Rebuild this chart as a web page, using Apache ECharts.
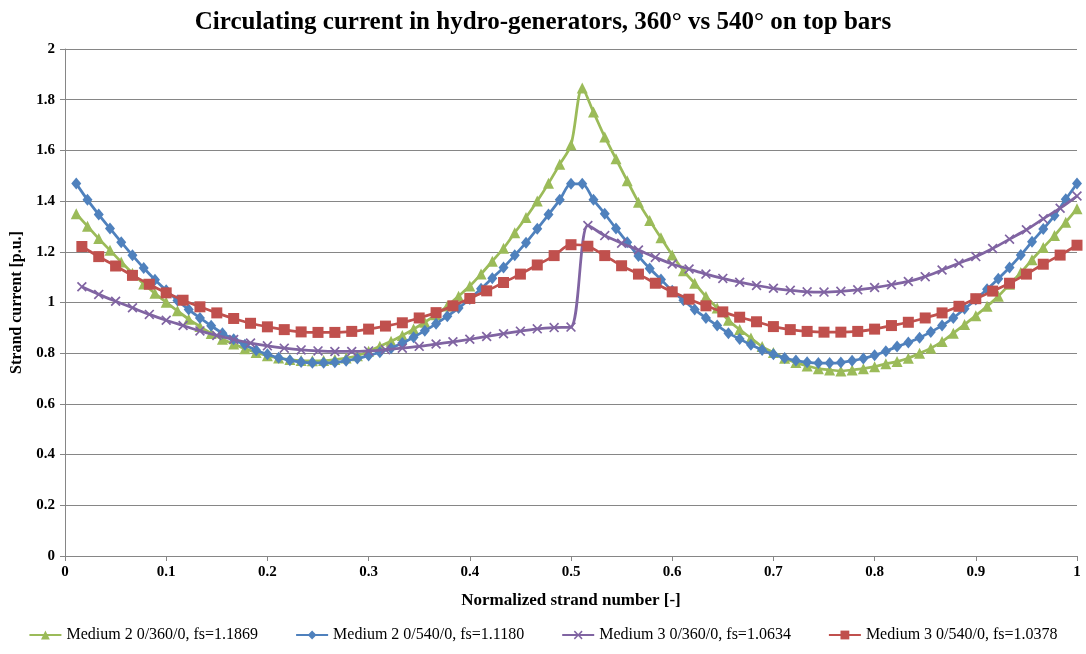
<!DOCTYPE html>
<html>
<head>
<meta charset="utf-8">
<title>Circulating current</title>
<script src="https://cdn.jsdelivr.net/npm/echarts@6/dist/echarts.min.js"></script>
<style>
  html, body { margin: 0; padding: 0; background: #fff; }
  #main { width: 1086px; height: 654px; }
</style>
</head>
<body>
<div id="main"></div>
<script>
// number of strands per series (points sit at i/N, i = 1..N)
var strands90 = 90;
var strands60 = 60;

// Medium 2 0/360/0 (green, triangles), 90 points
var medium2_360 = [
  1.350, 1.301, 1.252, 1.206, 1.160, 1.115, 1.073, 1.036, 1.001, 0.967,
  0.934, 0.905, 0.878, 0.855, 0.836, 0.818, 0.803, 0.790, 0.781, 0.775,
  0.771, 0.770, 0.771, 0.775, 0.781, 0.790, 0.808, 0.827, 0.847, 0.870,
  0.895, 0.922, 0.952, 0.986, 1.025, 1.065, 1.112, 1.163, 1.214, 1.275,
  1.335, 1.400, 1.470, 1.545, 1.622, 1.846, 1.751, 1.653, 1.567, 1.480,
  1.395, 1.323, 1.255, 1.187, 1.125, 1.076, 1.024, 0.978, 0.930, 0.893,
  0.860, 0.826, 0.803, 0.780, 0.763, 0.750, 0.739, 0.734, 0.730, 0.734,
  0.739, 0.747, 0.758, 0.767, 0.780, 0.800, 0.820, 0.846, 0.879, 0.913,
  0.948, 0.985, 1.025, 1.072, 1.118, 1.169, 1.217, 1.264, 1.317, 1.370
];

// Medium 2 0/540/0 (blue, diamonds), 90 points
var medium2_540 = [
  1.469, 1.405, 1.347, 1.292, 1.238, 1.186, 1.136, 1.090, 1.048, 1.008,
  0.972, 0.939, 0.908, 0.879, 0.855, 0.833, 0.812, 0.796, 0.782, 0.772,
  0.765, 0.762, 0.762, 0.764, 0.770, 0.779, 0.791, 0.804, 0.820, 0.840,
  0.863, 0.889, 0.916, 0.946, 0.978, 1.014, 1.054, 1.096, 1.138, 1.186,
  1.236, 1.291, 1.347, 1.405, 1.468, 1.468, 1.405, 1.350, 1.292, 1.238,
  1.183, 1.134, 1.091, 1.046, 1.009, 0.972, 0.939, 0.909, 0.879, 0.856,
  0.833, 0.813, 0.796, 0.781, 0.771, 0.764, 0.761, 0.761, 0.763, 0.770,
  0.779, 0.792, 0.808, 0.826, 0.842, 0.861, 0.884, 0.909, 0.939, 0.975,
  1.012, 1.052, 1.094, 1.138, 1.187, 1.240, 1.290, 1.343, 1.407, 1.469
];

// Medium 3 0/360/0 (purple, crosses), 60 points
var medium3_360 = [
  1.062, 1.032, 1.005, 0.979, 0.953, 0.930, 0.909, 0.888, 0.870, 0.854,
  0.840, 0.829, 0.820, 0.813, 0.809, 0.807, 0.807, 0.809, 0.814, 0.820,
  0.827, 0.836, 0.845, 0.855, 0.866, 0.877, 0.887, 0.896, 0.901, 0.903,
  1.304, 1.264, 1.234, 1.207, 1.178, 1.152, 1.132, 1.112, 1.095, 1.080,
  1.067, 1.056, 1.048, 1.042, 1.041, 1.044, 1.050, 1.059, 1.070, 1.083,
  1.102, 1.128, 1.155, 1.181, 1.213, 1.250, 1.287, 1.330, 1.372, 1.420
];

// Medium 3 0/540/0 (red, squares), 60 points
var medium3_540 = [
  1.221, 1.181, 1.144, 1.107, 1.072, 1.038, 1.009, 0.983, 0.959, 0.937,
  0.918, 0.904, 0.893, 0.884, 0.882, 0.882, 0.886, 0.895, 0.907, 0.920,
  0.939, 0.960, 0.987, 1.016, 1.046, 1.079, 1.112, 1.148, 1.185, 1.228,
  1.222, 1.185, 1.145, 1.112, 1.076, 1.042, 1.013, 0.987, 0.963, 0.942,
  0.924, 0.905, 0.893, 0.886, 0.883, 0.883, 0.886, 0.895, 0.909, 0.922,
  0.939, 0.959, 0.985, 1.015, 1.045, 1.076, 1.112, 1.151, 1.187, 1.226
];

var seriesNames = [
  'Medium 2 0/360/0, fs=1.1869',
  'Medium 2 0/540/0, fs=1.1180',
  'Medium 3 0/360/0, fs=1.0634',
  'Medium 3 0/540/0, fs=1.0378'
];

// normalized strand number -> [x, y] pairs
function pairs(values, n) {
  return values.map(function (v, k) { return [(k + 1) / n, v]; });
}

var serif = "'Liberation Serif', 'DejaVu Serif', 'Times New Roman', serif";
var xMark = 'path://M0,1.2 L1.2,0 L5,3.8 L8.8,0 L10,1.2 L6.2,5 L10,8.8 L8.8,10 L5,6.2 L1.2,10 L0,8.8 L3.8,5 Z';

var chart = echarts.init(document.getElementById('main'));

var option = {
  backgroundColor: '#ffffff',
  animation: false,
  title: {
    text: 'Circulating current in hydro-generators, 360\u00b0 vs 540\u00b0 on top bars',
    left: 'center',
    top: 5,
    textStyle: { fontFamily: serif, fontSize: 25, fontWeight: 'bold', color: '#000' }
  },
  grid: { left: 65, right: 9, top: 49, bottom: 98 },
  legend: {
    bottom: 6,
    left: 'center',
    itemGap: 37,
    itemWidth: 32,
    itemHeight: 11,
    textStyle: { fontFamily: serif, fontSize: 16, color: '#000' },
    data: seriesNames
  },
  xAxis: {
    type: 'value',
    min: 0,
    max: 1,
    interval: 0.1,
    name: 'Normalized strand number [-]',
    nameLocation: 'middle',
    nameGap: 36,
    nameTextStyle: { fontFamily: serif, fontSize: 17, fontWeight: 'bold', color: '#000' },
    axisLine: { lineStyle: { color: '#868686', width: 1 } },
    axisTick: { show: true, inside: false, length: 5, lineStyle: { color: '#868686' } },
    axisLabel: { fontFamily: serif, fontSize: 15, fontWeight: 'bold', color: '#000', margin: 9 },
    splitLine: { show: false }
  },
  yAxis: {
    type: 'value',
    min: 0,
    max: 2,
    interval: 0.2,
    name: 'Strand current [p.u.]',
    nameLocation: 'middle',
    nameRotate: 90,
    nameGap: 38,
    nameTextStyle: { fontFamily: serif, fontSize: 16, fontWeight: 'bold', color: '#000' },
    axisLine: { show: true, lineStyle: { color: '#868686', width: 1 } },
    axisTick: { show: true, inside: false, length: 5, lineStyle: { color: '#868686' } },
    axisLabel: { fontFamily: serif, fontSize: 15, fontWeight: 'bold', color: '#000', margin: 10 },
    splitLine: { show: true, lineStyle: { color: '#868686', width: 1 } }
  },
  series: [
    {
      name: seriesNames[0],
      type: 'line',
      data: pairs(medium2_360, strands90),
      smooth: 0.3,
      symbol: 'triangle',
      symbolSize: 11,
      color: '#9BBB59',
      lineStyle: { width: 2.75 },
      z: 2
    },
    {
      name: seriesNames[1],
      type: 'line',
      data: pairs(medium2_540, strands90),
      smooth: 0.3,
      symbol: 'diamond',
      symbolSize: [10, 12],
      color: '#4F81BD',
      lineStyle: { width: 2.75 },
      z: 3
    },
    {
      name: seriesNames[2],
      type: 'line',
      data: pairs(medium3_360, strands60),
      smooth: 0.3,
      symbol: xMark,
      symbolSize: 10,
      color: '#8064A2',
      lineStyle: { width: 2.75 },
      z: 4
    },
    {
      name: seriesNames[3],
      type: 'line',
      data: pairs(medium3_540, strands60),
      smooth: 0.3,
      symbol: 'rect',
      symbolSize: 11,
      color: '#C0504D',
      lineStyle: { width: 2.75 },
      z: 5
    }
  ]
};

chart.setOption(option);
</script>
</body>
</html>
